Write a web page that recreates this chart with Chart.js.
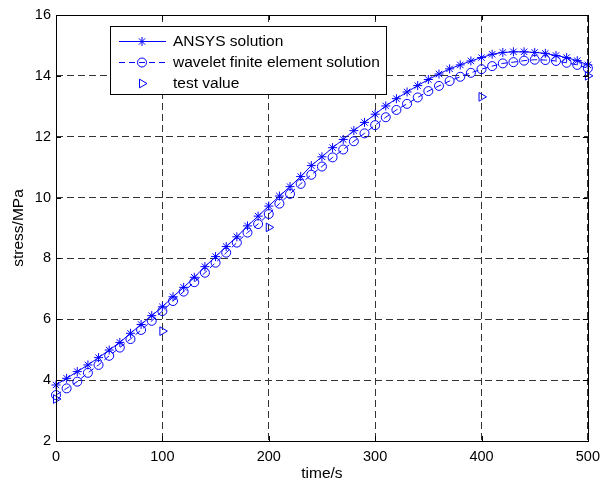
<!DOCTYPE html>
<html>
<head>
<meta charset="utf-8">
<script src="https://cdn.jsdelivr.net/npm/chart.js@4"></script>
<style>
  html, body { margin: 0; padding: 0; background: #fff; }
  #wrap { width: 607px; height: 488px; position: relative; }
</style>
</head>
<body>
<div id="wrap"><canvas id="chart"></canvas></div>
<script>
// time axis (s), one sample every 10 s
const times = [0, 10, 20, 30, 40, 50, 60, 70, 80, 90,
  100, 110, 120, 130, 140, 150, 160, 170, 180, 190,
  200, 210, 220, 230, 240, 250, 260, 270, 280, 290,
  300, 310, 320, 330, 340, 350, 360, 370, 380, 390,
  400, 410, 420, 430, 440, 450, 460, 470, 480, 490, 500]

const ansys = [3.84, 4.06, 4.28, 4.50, 4.74, 4.99, 5.24, 5.54, 5.83, 6.12,
  6.41, 6.74, 7.05, 7.38, 7.73, 8.06, 8.39, 8.71, 9.07, 9.39,
  9.72, 10.05, 10.36, 10.69, 11.05, 11.34, 11.64, 11.91, 12.20, 12.47,
  12.74, 13.01, 13.25, 13.47, 13.68, 13.88, 14.06, 14.23, 14.36, 14.49,
  14.60, 14.71, 14.77, 14.79, 14.79, 14.77, 14.74, 14.67, 14.60, 14.50, 14.36]

const wavelet = [3.51, 3.73, 3.95, 4.24, 4.50, 4.80, 5.07, 5.35, 5.65, 5.95,
  6.27, 6.60, 6.91, 7.22, 7.53, 7.86, 8.19, 8.52, 8.85, 9.13,
  9.46, 9.80, 10.12, 10.45, 10.75, 11.02, 11.32, 11.58, 11.85, 12.11,
  12.38, 12.64, 12.88, 13.08, 13.29, 13.50, 13.67, 13.83, 13.97, 14.10,
  14.22, 14.32, 14.41, 14.45, 14.50, 14.53, 14.52, 14.49, 14.43, 14.36, 14.25]

const testTimes = [0, 100, 200, 400, 500]
const testValues = [3.38, 5.61, 9.02, 13.31, 14.00]

const xTicks = [0, 100, 200, 300, 400, 500]
const yTicks = [2, 4, 6, 8, 10, 12, 14, 16]

const labels = ['ANSYS solution', 'wavelet finite element solution', 'test value']

const blue = '#0000ff'
const family = 'Arial, "Liberation Sans", sans-serif'
const tickFont = { family, size: 14.5 }
const labelFont = { family, size: 15.5 }

const toPoints = (xs, ys) => xs.map((x, i) => ({ x, y: ys[i] }))

// MATLAB-like frame: full box plus short inward ticks
const framePlugin = {
  id: 'frame',
  afterDatasetsDraw(chart) {
    const { ctx, chartArea: a, scales } = chart
    ctx.save()
    ctx.strokeStyle = '#000'
    ctx.lineWidth = 1
    ctx.setLineDash([])
    ctx.beginPath()
    xTicks.forEach(t => {
      const px = Math.round(scales.x.getPixelForValue(t)) + 0.5
      ctx.moveTo(px, a.bottom); ctx.lineTo(px, a.bottom - 5)
      ctx.moveTo(px, a.top); ctx.lineTo(px, a.top + 5)
    })
    yTicks.forEach(t => {
      const py = Math.round(scales.y.getPixelForValue(t)) + 0.5
      ctx.moveTo(a.left, py); ctx.lineTo(a.left + 5, py)
      ctx.moveTo(a.right, py); ctx.lineTo(a.right - 5, py)
    })
    ctx.stroke()
    ctx.strokeRect(Math.round(a.left) + 0.5, Math.round(a.top) + 0.5,
      Math.round(a.right - a.left), Math.round(a.bottom - a.top))
    ctx.restore()
  }
}

// legend box drawn the MATLAB way: line sample with marker in the middle
const legendPlugin = {
  id: 'matlabLegend',
  afterDraw(chart) {
    const { ctx } = chart
    const box = { x: 110.5, y: 26.5, w: 276, h: 68 }
    ctx.save()
    ctx.fillStyle = '#fff'
    ctx.fillRect(box.x, box.y, box.w, box.h)
    ctx.strokeStyle = '#000'
    ctx.lineWidth = 1
    ctx.setLineDash([])
    ctx.strokeRect(box.x, box.y, box.w, box.h)

    const rowY = [41, 62, 83]
    chart.data.datasets.forEach((ds, i) => {
      const y = rowY[i] + 0.5
      ctx.strokeStyle = blue
      ctx.lineWidth = 1
      if (ds.showLine !== false) {
        ctx.setLineDash(ds.borderDash || [])
        ctx.beginPath()
        ctx.moveTo(119, y); ctx.lineTo(166, y)
        ctx.stroke()
      }
      ctx.setLineDash([])
      ctx.fillStyle = 'rgba(0,0,0,0)'
      ctx.strokeStyle = blue
      Chart.helpers.drawPoint(ctx, {
        pointStyle: ds.pointStyle,
        radius: ds.pointRadius,
        rotation: ds.pointRotation || 0,
        borderWidth: 1
      }, 142, y)
      ctx.fillStyle = '#000'
      ctx.font = `${labelFont.size}px ${labelFont.family}`
      ctx.textBaseline = 'middle'
      ctx.textAlign = 'left'
      ctx.fillText(ds.label, 173, rowY[i] + 1)
    })
    ctx.restore()
  }
}

const gridStyle = {
  color: '#333',
  lineWidth: 1,
  drawTicks: false
}

new Chart(document.getElementById('chart'), {
  type: 'line',
  data: {
    datasets: [
      {
        label: labels[0],
        data: toPoints(times, ansys),
        borderColor: blue,
        backgroundColor: 'transparent',
        borderWidth: 1,
        pointStyle: 'star',
        pointRadius: 4.5,
        pointBorderColor: blue,
        pointBorderWidth: 1,
        clip: false
      },
      {
        label: labels[1],
        data: toPoints(times, wavelet),
        borderColor: blue,
        backgroundColor: 'transparent',
        borderWidth: 1,
        borderDash: [6, 4],
        pointStyle: 'circle',
        pointRadius: 4.5,
        pointBorderColor: blue,
        pointBackgroundColor: 'transparent',
        pointBorderWidth: 1,
        clip: false
      },
      {
        label: labels[2],
        data: toPoints(testTimes, testValues),
        showLine: false,
        borderColor: blue,
        backgroundColor: 'transparent',
        pointStyle: 'triangle',
        pointRotation: 90,
        pointRadius: 5,
        pointBorderColor: blue,
        pointBackgroundColor: 'transparent',
        pointBorderWidth: 1,
        clip: false
      }
    ]
  },
  options: {
    responsive: true,
    maintainAspectRatio: false,
    animation: false,
    layout: { padding: { left: 0, top: 15, right: 11, bottom: 0 } },
    elements: { line: { tension: 0 } },
    plugins: {
      legend: { display: false },
      tooltip: { enabled: false }
    },
    scales: {
      x: {
        type: 'linear',
        min: 0,
        max: 500,
        afterFit: s => { s.height = 47 },
        afterBuildTicks: s => { s.ticks = xTicks.map(v => ({ value: v })) },
        grid: { ...gridStyle },
        border: { display: false, dash: [7, 4] },
        ticks: { color: '#000', font: tickFont, padding: 7, maxRotation: 0 },
        title: { display: true, text: 'time/s', color: '#000', font: labelFont, padding: { top: 0, bottom: 5 } }
      },
      y: {
        type: 'linear',
        min: 2,
        max: 16,
        afterFit: s => { s.width = 56 },
        afterBuildTicks: s => { s.ticks = yTicks.map(v => ({ value: v })) },
        grid: { ...gridStyle },
        border: { display: false, dash: [7, 4] },
        ticks: { color: '#000', font: tickFont, padding: 5 },
        title: { display: true, text: 'stress/MPa', color: '#000', font: labelFont, padding: { top: 9, bottom: 0 } }
      }
    }
  },
  plugins: [framePlugin, legendPlugin]
})
</script>
</body>
</html>
